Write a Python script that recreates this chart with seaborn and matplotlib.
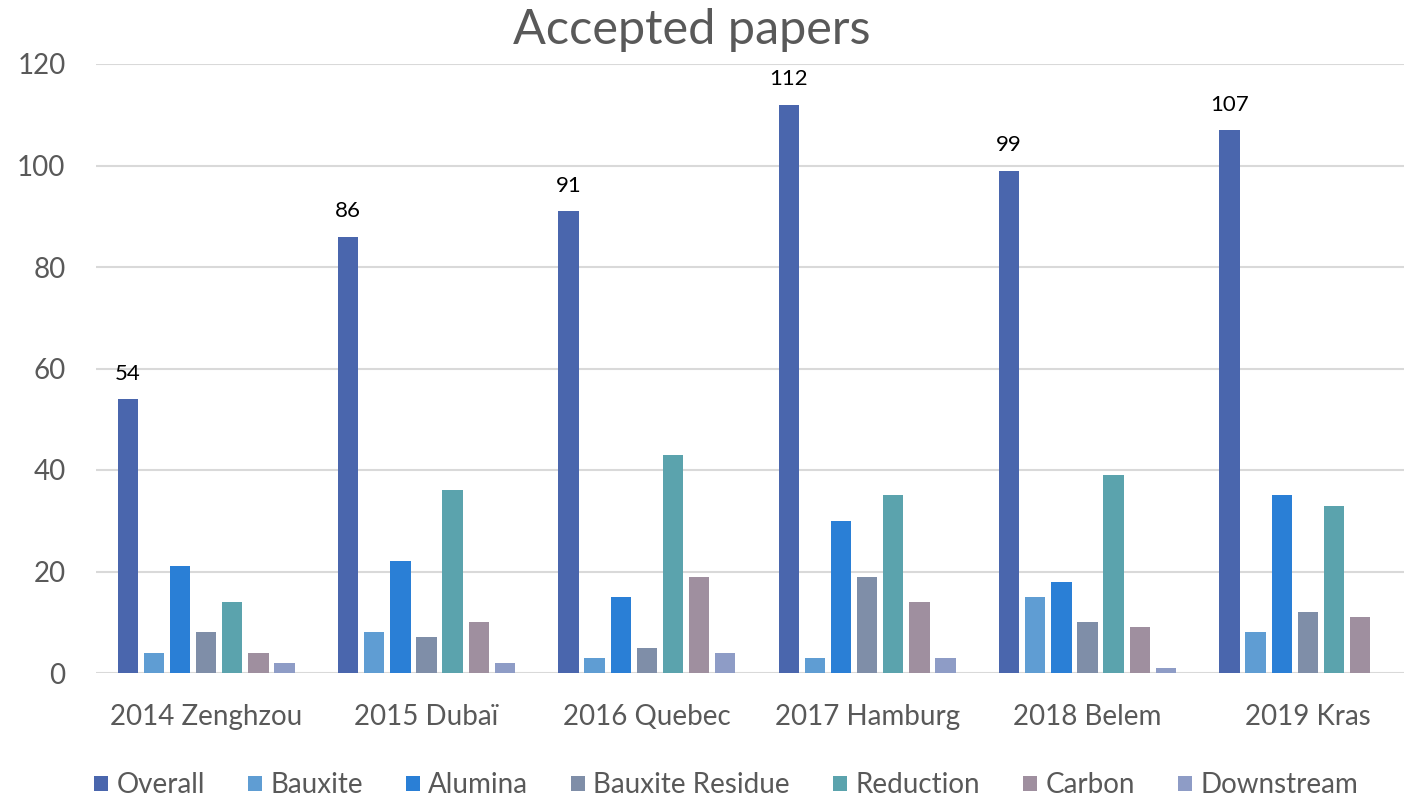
import matplotlib
matplotlib.use("Agg")
import matplotlib.pyplot as plt
import seaborn as sns
import pandas as pd

sns.set_theme(style="white")
plt.rcParams['font.family'] = ['Lato', 'DejaVu Sans']

# Dados
congressos = ['2014 Zenghzou', '2015 Dubaï', '2016 Quebec', '2017 Hamburg', '2018 Belem', '2019 Kras']
categorias = ['Overall', 'Bauxite', 'Alumina', 'Bauxite Residue', 'Reduction', 'Carbon', 'Downstream']
overall = [54, 86, 91, 112, 99, 107]
bauxite = [4, 8, 3, 3, 15, 8]
alumina = [21, 22, 15, 30, 18, 35]
residue = [8, 7, 5, 19, 10, 12]
reduction = [14, 36, 43, 35, 39, 33]
carbon = [4, 10, 19, 14, 9, 11]
downstream = [2, 2, 4, 3, 1, 0]
cores = ['#4a66ad', '#5f9dd3', '#2a7fd6', '#7f8ea8', '#5ba3ad', '#9f8f9f', '#8e9cc6']

series = [overall, bauxite, alumina, residue, reduction, carbon, downstream]
linhas = []
for cat, vals in zip(categorias, series):
    for c, v in zip(congressos, vals):
        linhas.append({'Congresso': c, 'Categoria': cat, 'Papers': v})
df = pd.DataFrame(linhas)

fig = plt.figure(figsize=(14.04, 7.98), dpi=100)
ax = fig.add_axes([96 / 1404, 1 - 673 / 798, 1322 / 1404, 609 / 798])

sns.barplot(data=df, x='Congresso', y='Papers', hue='Categoria', palette=cores,
            width=0.83, gap=0.22, ax=ax, saturation=1, linewidth=0)

ax.set_xlim(-0.5, 5.5)
ax.set_ylim(0, 120)
ax.set_yticks(range(0, 121, 20))
ax.yaxis.grid(True, color='#d9d9d9', linewidth=1.5)
ax.set_axisbelow(True)
for s in ax.spines.values():
    s.set_visible(False)
ax.set_xlabel('')
ax.set_ylabel('')
ax.tick_params(axis='both', labelsize=20, colors='#595959', length=0)
ax.tick_params(axis='x', pad=22)
ax.tick_params(axis='y', pad=22)

# Rótulos só para Overall
ax.bar_label(ax.containers[0], fontsize=16, color='black', padding=11)

fig.text(0.5 - 10 / 1404, 0.962, 'Accepted papers', ha='center', va='center', fontsize=35, color='#595959')

leg = ax.legend(loc='lower center', bbox_to_anchor=(0.5 - 31 / 1322, -0.247), ncol=7,
                frameon=False, fontsize=20, handlelength=0.5, handleheight=0.5,
                handletextpad=0.3, columnspacing=1.55)
for t in leg.get_texts():
    t.set_color('#595959')

plt.savefig('out.png', dpi=100)
